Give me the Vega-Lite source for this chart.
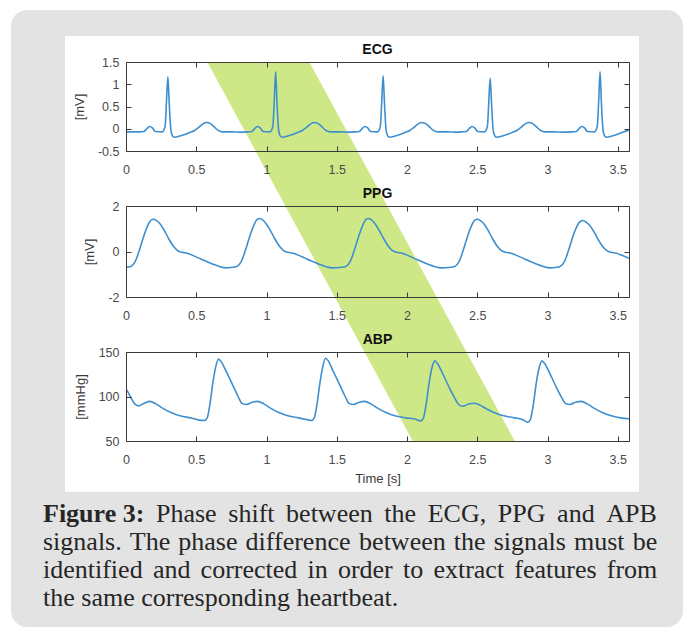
{
  "$schema": "https://vega.github.io/schema/vega-lite/v6.json",
  "background": "white",
  "padding": {"left": 11, "top": 10, "right": 0, "bottom": 0},
  "config": {
    "view": {"stroke": null},
    "axis": {
      "labelFont": "Liberation Sans", "labelFontSize": 12.5, "labelColor": "#4a4a4a",
      "titleFont": "Liberation Sans", "titleFontSize": 13, "titleFontWeight": "normal", "titleColor": "#3a3a3a",
      "grid": false, "domain": true, "domainColor": "#3a3a3a", "domainWidth": 1,
      "tickColor": "#3a3a3a", "tickSize": -5, "labelOverlap": false, "labelFlush": false,
      "zindex": 1
    },
    "axisBottom": {"labelPadding": 17, "titlePadding": 7},
    "axisLeft": {"labelPadding": 12, "titlePadding": 11},
    "title": {"font": "Liberation Sans", "fontSize": 14, "fontWeight": "bold", "color": "#111111", "baseline": "bottom", "offset": -1}
  },
  "datasets": {
    "grayBox": [{"x0": 11, "x1": 683, "y0": 10, "y1": 627}],
    "whiteBox": [{"x0": 65, "x1": 639, "y0": 36, "y1": 491.7}],
    "band": [
      {"panel": "ECG", "v": 1.5, "tl": 0.5786, "tr": 1.3046},
      {"panel": "ECG", "v": -1.736, "tl": 1.1342, "tr": 1.8602},
      {"panel": "PPG", "v": 2, "tl": 1.1342, "tr": 1.8602},
      {"panel": "PPG", "v": -4.4176, "tl": 1.6974, "tr": 2.4233},
      {"panel": "ABP", "v": 150, "tl": 1.6974, "tr": 2.4233},
      {"panel": "ABP", "v": 50, "tl": 2.0407, "tr": 2.7667}
    ],
    "ecg": [
      {"t": 0, "v": -0.07}, {"t": 0.05, "v": -0.07}, {"t": 0.098, "v": -0.07}, {"t": 0.128, "v": -0.06}, {"t": 0.148, "v": 0.0}, {"t": 0.168, "v": 0.05}, {"t": 0.188, "v": 0.02}, {"t": 0.208, "v": -0.06}, {"t": 0.258, "v": -0.07}, {"t": 0.278, "v": 0.05}, {"t": 0.288, "v": 0.6}, {"t": 0.298, "v": 1.17}, {"t": 0.308, "v": 0.55}, {"t": 0.32, "v": -0.05}, {"t": 0.333, "v": -0.17}, {"t": 0.348, "v": -0.19}, {"t": 0.378, "v": -0.17}, {"t": 0.418, "v": -0.13}, {"t": 0.458, "v": -0.08}, {"t": 0.488, "v": -0.04}, {"t": 0.518, "v": 0.03}, {"t": 0.548, "v": 0.11}, {"t": 0.573, "v": 0.14}, {"t": 0.598, "v": 0.12}, {"t": 0.628, "v": 0.04}, {"t": 0.658, "v": -0.04}, {"t": 0.688, "v": -0.07}, {"t": 0.748, "v": -0.07}, {"t": 0.818, "v": -0.075},
      {"t": 0.865, "v": -0.07}, {"t": 0.895, "v": -0.06}, {"t": 0.915, "v": 0.0}, {"t": 0.935, "v": 0.05}, {"t": 0.955, "v": 0.02}, {"t": 0.975, "v": -0.06}, {"t": 1.025, "v": -0.07}, {"t": 1.045, "v": 0.05}, {"t": 1.055, "v": 0.6}, {"t": 1.065, "v": 1.28}, {"t": 1.075, "v": 0.55}, {"t": 1.087, "v": -0.05}, {"t": 1.1, "v": -0.17}, {"t": 1.115, "v": -0.19}, {"t": 1.145, "v": -0.17}, {"t": 1.185, "v": -0.13}, {"t": 1.225, "v": -0.08}, {"t": 1.255, "v": -0.04}, {"t": 1.285, "v": 0.03}, {"t": 1.315, "v": 0.11}, {"t": 1.34, "v": 0.14}, {"t": 1.365, "v": 0.12}, {"t": 1.395, "v": 0.04}, {"t": 1.425, "v": -0.04}, {"t": 1.455, "v": -0.07}, {"t": 1.515, "v": -0.07}, {"t": 1.585, "v": -0.075},
      {"t": 1.63, "v": -0.07}, {"t": 1.66, "v": -0.06}, {"t": 1.68, "v": 0.0}, {"t": 1.7, "v": 0.05}, {"t": 1.72, "v": 0.02}, {"t": 1.74, "v": -0.06}, {"t": 1.79, "v": -0.07}, {"t": 1.81, "v": 0.05}, {"t": 1.82, "v": 0.6}, {"t": 1.83, "v": 1.19}, {"t": 1.84, "v": 0.55}, {"t": 1.852, "v": -0.05}, {"t": 1.865, "v": -0.17}, {"t": 1.88, "v": -0.19}, {"t": 1.91, "v": -0.17}, {"t": 1.95, "v": -0.13}, {"t": 1.99, "v": -0.08}, {"t": 2.02, "v": -0.04}, {"t": 2.05, "v": 0.03}, {"t": 2.08, "v": 0.11}, {"t": 2.105, "v": 0.14}, {"t": 2.13, "v": 0.12}, {"t": 2.16, "v": 0.04}, {"t": 2.19, "v": -0.04}, {"t": 2.22, "v": -0.07}, {"t": 2.28, "v": -0.07}, {"t": 2.35, "v": -0.075},
      {"t": 2.392, "v": -0.07}, {"t": 2.422, "v": -0.06}, {"t": 2.442, "v": 0.0}, {"t": 2.462, "v": 0.05}, {"t": 2.482, "v": 0.02}, {"t": 2.502, "v": -0.06}, {"t": 2.552, "v": -0.07}, {"t": 2.572, "v": 0.05}, {"t": 2.582, "v": 0.6}, {"t": 2.592, "v": 1.14}, {"t": 2.602, "v": 0.55}, {"t": 2.614, "v": -0.05}, {"t": 2.627, "v": -0.17}, {"t": 2.642, "v": -0.19}, {"t": 2.672, "v": -0.17}, {"t": 2.712, "v": -0.13}, {"t": 2.752, "v": -0.08}, {"t": 2.782, "v": -0.04}, {"t": 2.812, "v": 0.03}, {"t": 2.842, "v": 0.11}, {"t": 2.867, "v": 0.14}, {"t": 2.892, "v": 0.12}, {"t": 2.922, "v": 0.04}, {"t": 2.952, "v": -0.04}, {"t": 2.982, "v": -0.07}, {"t": 3.042, "v": -0.07}, {"t": 3.112, "v": -0.075},
      {"t": 3.174, "v": -0.07}, {"t": 3.204, "v": -0.06}, {"t": 3.224, "v": 0.0}, {"t": 3.244, "v": 0.05}, {"t": 3.264, "v": 0.02}, {"t": 3.284, "v": -0.06}, {"t": 3.334, "v": -0.07}, {"t": 3.354, "v": 0.05}, {"t": 3.364, "v": 0.6}, {"t": 3.374, "v": 1.28}, {"t": 3.384, "v": 0.55}, {"t": 3.396, "v": -0.05}, {"t": 3.409, "v": -0.17}, {"t": 3.424, "v": -0.19}, {"t": 3.454, "v": -0.17}, {"t": 3.494, "v": -0.13}, {"t": 3.534, "v": -0.08}, {"t": 3.58, "v": -0.03}
    ],
    "ppg": [
      {"t": 0, "v": -0.7}, {"t": 0.035, "v": -0.66}, {"t": 0.065, "v": -0.45}, {"t": 0.095, "v": 0.05}, {"t": 0.125, "v": 0.65}, {"t": 0.155, "v": 1.15}, {"t": 0.18, "v": 1.39}, {"t": 0.195, "v": 1.42}, {"t": 0.215, "v": 1.37}, {"t": 0.245, "v": 1.2}, {"t": 0.275, "v": 0.9}, {"t": 0.305, "v": 0.55}, {"t": 0.335, "v": 0.25}, {"t": 0.365, "v": 0.05}, {"t": 0.395, "v": -0.03}, {"t": 0.435, "v": -0.08}, {"t": 0.475, "v": -0.17}, {"t": 0.515, "v": -0.28}, {"t": 0.565, "v": -0.42}, {"t": 0.615, "v": -0.55}, {"t": 0.665, "v": -0.66}, {"t": 0.715, "v": -0.72},
      {"t": 0.75, "v": -0.7}, {"t": 0.79, "v": -0.66}, {"t": 0.82, "v": -0.45}, {"t": 0.85, "v": 0.05}, {"t": 0.88, "v": 0.65}, {"t": 0.91, "v": 1.15}, {"t": 0.935, "v": 1.42}, {"t": 0.95, "v": 1.45}, {"t": 0.97, "v": 1.4}, {"t": 1.0, "v": 1.2}, {"t": 1.03, "v": 0.9}, {"t": 1.06, "v": 0.55}, {"t": 1.09, "v": 0.25}, {"t": 1.12, "v": 0.05}, {"t": 1.15, "v": -0.03}, {"t": 1.19, "v": -0.08}, {"t": 1.23, "v": -0.17}, {"t": 1.27, "v": -0.28}, {"t": 1.32, "v": -0.42}, {"t": 1.37, "v": -0.55}, {"t": 1.42, "v": -0.66}, {"t": 1.47, "v": -0.72},
      {"t": 1.525, "v": -0.7}, {"t": 1.565, "v": -0.66}, {"t": 1.595, "v": -0.45}, {"t": 1.625, "v": 0.05}, {"t": 1.655, "v": 0.65}, {"t": 1.685, "v": 1.15}, {"t": 1.71, "v": 1.42}, {"t": 1.725, "v": 1.45}, {"t": 1.745, "v": 1.4}, {"t": 1.775, "v": 1.2}, {"t": 1.805, "v": 0.9}, {"t": 1.835, "v": 0.55}, {"t": 1.865, "v": 0.25}, {"t": 1.895, "v": 0.05}, {"t": 1.925, "v": -0.03}, {"t": 1.965, "v": -0.08}, {"t": 2.005, "v": -0.17}, {"t": 2.045, "v": -0.28}, {"t": 2.095, "v": -0.42}, {"t": 2.145, "v": -0.55}, {"t": 2.195, "v": -0.66}, {"t": 2.245, "v": -0.72},
      {"t": 2.3, "v": -0.7}, {"t": 2.34, "v": -0.66}, {"t": 2.37, "v": -0.45}, {"t": 2.4, "v": 0.05}, {"t": 2.43, "v": 0.65}, {"t": 2.46, "v": 1.15}, {"t": 2.485, "v": 1.39}, {"t": 2.5, "v": 1.42}, {"t": 2.52, "v": 1.37}, {"t": 2.55, "v": 1.2}, {"t": 2.58, "v": 0.9}, {"t": 2.61, "v": 0.55}, {"t": 2.64, "v": 0.25}, {"t": 2.67, "v": 0.05}, {"t": 2.7, "v": -0.03}, {"t": 2.74, "v": -0.08}, {"t": 2.78, "v": -0.17}, {"t": 2.82, "v": -0.28}, {"t": 2.87, "v": -0.42}, {"t": 2.92, "v": -0.55}, {"t": 2.97, "v": -0.66}, {"t": 3.02, "v": -0.72},
      {"t": 3.055, "v": -0.7}, {"t": 3.09, "v": -0.66}, {"t": 3.12, "v": -0.45}, {"t": 3.15, "v": 0.05}, {"t": 3.18, "v": 0.65}, {"t": 3.21, "v": 1.12}, {"t": 3.235, "v": 1.33}, {"t": 3.25, "v": 1.36}, {"t": 3.27, "v": 1.31}, {"t": 3.3, "v": 1.15}, {"t": 3.33, "v": 0.87}, {"t": 3.36, "v": 0.53}, {"t": 3.39, "v": 0.24}, {"t": 3.42, "v": 0.05}, {"t": 3.45, "v": -0.03}, {"t": 3.49, "v": -0.08}, {"t": 3.53, "v": -0.17}, {"t": 3.58, "v": -0.3}
    ],
    "abp": [
      {"t": 0, "v": 108}, {"t": 0.01, "v": 106}, {"t": 0.03, "v": 100}, {"t": 0.06, "v": 92}, {"t": 0.09, "v": 89.5}, {"t": 0.13, "v": 92.5}, {"t": 0.17, "v": 94.5}, {"t": 0.21, "v": 92}, {"t": 0.26, "v": 87}, {"t": 0.32, "v": 82}, {"t": 0.39, "v": 78}, {"t": 0.46, "v": 76}, {"t": 0.52, "v": 73.5},
      {"t": 0.558, "v": 73}, {"t": 0.578, "v": 76}, {"t": 0.598, "v": 92}, {"t": 0.618, "v": 115}, {"t": 0.638, "v": 133}, {"t": 0.658, "v": 142}, {"t": 0.678, "v": 139}, {"t": 0.708, "v": 130}, {"t": 0.738, "v": 120}, {"t": 0.768, "v": 110}, {"t": 0.798, "v": 100}, {"t": 0.828, "v": 92}, {"t": 0.858, "v": 91}, {"t": 0.898, "v": 93.5}, {"t": 0.938, "v": 94.5}, {"t": 0.978, "v": 92}, {"t": 1.028, "v": 87}, {"t": 1.088, "v": 82}, {"t": 1.158, "v": 78}, {"t": 1.228, "v": 76}, {"t": 1.29, "v": 74},
      {"t": 1.32, "v": 73}, {"t": 1.34, "v": 76}, {"t": 1.36, "v": 92}, {"t": 1.38, "v": 115}, {"t": 1.4, "v": 133}, {"t": 1.42, "v": 143}, {"t": 1.44, "v": 140}, {"t": 1.47, "v": 130}, {"t": 1.5, "v": 120}, {"t": 1.53, "v": 110}, {"t": 1.56, "v": 100}, {"t": 1.59, "v": 92}, {"t": 1.62, "v": 91}, {"t": 1.66, "v": 93.5}, {"t": 1.7, "v": 94.5}, {"t": 1.74, "v": 92}, {"t": 1.79, "v": 87}, {"t": 1.85, "v": 82}, {"t": 1.92, "v": 78}, {"t": 1.99, "v": 76}, {"t": 2.05, "v": 75},
      {"t": 2.097, "v": 72.5}, {"t": 2.117, "v": 76}, {"t": 2.137, "v": 92}, {"t": 2.157, "v": 115}, {"t": 2.177, "v": 132}, {"t": 2.197, "v": 140}, {"t": 2.217, "v": 137}, {"t": 2.247, "v": 128}, {"t": 2.277, "v": 118}, {"t": 2.307, "v": 108}, {"t": 2.337, "v": 99}, {"t": 2.367, "v": 91}, {"t": 2.397, "v": 89}, {"t": 2.437, "v": 91.5}, {"t": 2.477, "v": 92.5}, {"t": 2.517, "v": 90.5}, {"t": 2.567, "v": 86}, {"t": 2.627, "v": 81.5}, {"t": 2.697, "v": 78}, {"t": 2.767, "v": 76},
      {"t": 2.83, "v": 73.5}, {"t": 2.86, "v": 71}, {"t": 2.88, "v": 75}, {"t": 2.9, "v": 92}, {"t": 2.92, "v": 115}, {"t": 2.94, "v": 132}, {"t": 2.96, "v": 140}, {"t": 2.98, "v": 137}, {"t": 3.01, "v": 128}, {"t": 3.04, "v": 118}, {"t": 3.07, "v": 108}, {"t": 3.1, "v": 99}, {"t": 3.13, "v": 92}, {"t": 3.16, "v": 91}, {"t": 3.2, "v": 93.5}, {"t": 3.24, "v": 94.5}, {"t": 3.28, "v": 92}, {"t": 3.33, "v": 87}, {"t": 3.39, "v": 82}, {"t": 3.46, "v": 78}, {"t": 3.52, "v": 76}, {"t": 3.58, "v": 75}
    ],
    "captionBold": [{"px": 43, "py": 522, "w": "Figure 3:"}],
    "caption": [
      {"px": 156.0, "py": 522, "w": "Phase"}, {"px": 228.3, "py": 522, "w": "shift"}, {"px": 286.1, "py": 522, "w": "between"}, {"px": 384.3, "py": 522, "w": "the"}, {"px": 427.7, "py": 522, "w": "ECG,"}, {"px": 497.8, "py": 522, "w": "PPG"}, {"px": 557.1, "py": 522, "w": "and"}, {"px": 606.2, "py": 522, "w": "APB"},
      {"px": 43, "py": 550, "w": "signals."}, {"px": 129.8, "py": 550, "w": "The"}, {"px": 178.3, "py": 550, "w": "phase"}, {"px": 245.6, "py": 550, "w": "difference"}, {"px": 359.1, "py": 550, "w": "between"}, {"px": 453.8, "py": 550, "w": "the"}, {"px": 493.7, "py": 550, "w": "signals"}, {"px": 574.0, "py": 550, "w": "must"}, {"px": 632.7, "py": 550, "w": "be"},
      {"px": 43, "py": 578, "w": "identified"}, {"px": 152.9, "py": 578, "w": "and"}, {"px": 200.6, "py": 578, "w": "corrected"}, {"px": 307.5, "py": 578, "w": "in"}, {"px": 337.9, "py": 578, "w": "order"}, {"px": 403.0, "py": 578, "w": "to"}, {"px": 433.4, "py": 578, "w": "extract"}, {"px": 514.3, "py": 578, "w": "features"}, {"px": 606.8, "py": 578, "w": "from"},
      {"px": 43, "py": 606, "w": "the same corresponding heartbeat."}
    ]
  },
  "bounds": "flush",
  "spacing": 0,
  "vconcat": [
    {
      "width": 503, "height": 20,
      "layer": [
        {"data": {"name": "grayBox"}, "mark": {"type": "rect", "fill": "#e3e3e3", "cornerRadius": 16, "clip": false},
         "encoding": {"x": {"field": "x0", "type": "quantitative", "scale": {"domain": [126, 629], "nice": false, "zero": false}, "axis": null}, "x2": {"field": "x1"},
                      "y": {"field": "y0", "type": "quantitative", "scale": {"domain": [42, 62], "nice": false, "zero": false, "reverse": true}, "axis": null}, "y2": {"field": "y1"}}},
        {"data": {"name": "whiteBox"}, "mark": {"type": "rect", "fill": "#ffffff", "clip": false},
         "encoding": {"x": {"field": "x0", "type": "quantitative", "scale": {"domain": [126, 629], "nice": false, "zero": false}, "axis": null}, "x2": {"field": "x1"},
                      "y": {"field": "y0", "type": "quantitative", "scale": {"domain": [42, 62], "nice": false, "zero": false, "reverse": true}, "axis": null}, "y2": {"field": "y1"}}},
        {"data": {"name": "captionBold"}, "mark": {"type": "text", "align": "left", "baseline": "alphabetic", "font": "Liberation Serif", "fontSize": 26, "fontWeight": "bold", "color": "#262626", "clip": false},
         "encoding": {"x": {"field": "px", "type": "quantitative", "scale": {"domain": [126, 629], "nice": false, "zero": false}, "axis": null},
                      "y": {"field": "py", "type": "quantitative", "scale": {"domain": [42, 62], "nice": false, "zero": false, "reverse": true}, "axis": null},
                      "text": {"field": "w"}}},
        {"data": {"name": "caption"}, "mark": {"type": "text", "align": "left", "baseline": "alphabetic", "font": "Liberation Serif", "fontSize": 26, "color": "#262626", "clip": false},
         "encoding": {"x": {"field": "px", "type": "quantitative", "scale": {"domain": [126, 629], "nice": false, "zero": false}, "axis": null},
                      "y": {"field": "py", "type": "quantitative", "scale": {"domain": [42, 62], "nice": false, "zero": false, "reverse": true}, "axis": null},
                      "text": {"field": "w"}}}
      ]
    },
    {
      "bounds": "flush",
      "spacing": 55,
      "vconcat": [
        {
          "title": "ECG",
          "width": 503, "height": 89,
          "layer": [
            {"data": {"name": "band"}, "transform": [{"filter": "datum.panel === 'ECG'"}],
             "mark": {"type": "area", "orient": "horizontal", "fill": "#cee888", "clip": false},
             "encoding": {"y": {"field": "v", "type": "quantitative", "scale": {"domain": [-0.5, 1.5], "nice": false, "zero": false}, "axis": null},
                          "x": {"field": "tl", "type": "quantitative", "scale": {"domain": [0, 3.58], "nice": false, "zero": false}, "axis": null}, "x2": {"field": "tr"}}},
            {"data": {"name": "ecg"}, "mark": {"type": "line", "color": "#3f8fce", "strokeWidth": 1.6, "clip": true, "interpolate": "monotone"},
             "encoding": {"x": {"field": "t", "type": "quantitative", "scale": {"domain": [0, 3.58], "nice": false, "zero": false}, "axis": {"orient": "bottom", "zindex": 1, "values": [0, 0.5, 1, 1.5, 2, 2.5, 3, 3.5], "labelExpr": "'' + datum.value", "title": null}},
                          "y": {"field": "v", "type": "quantitative", "scale": {"domain": [-0.5, 1.5], "nice": false, "zero": false}, "axis": {"orient": "left", "zindex": 1, "values": [-0.5, 0, 0.5, 1, 1.5], "labelExpr": "'' + datum.value", "title": "[mV]"}}}},
            {"data": {"name": "ecg"}, "mark": {"type": "line", "opacity": 0},
             "encoding": {"x": {"field": "t", "type": "quantitative", "scale": {"domain": [0, 3.58], "nice": false, "zero": false}, "axis": {"orient": "top", "zindex": 1, "values": [0, 0.5, 1, 1.5, 2, 2.5, 3, 3.5], "labels": false, "title": null}},
                          "y": {"field": "v", "type": "quantitative", "scale": {"domain": [-0.5, 1.5], "nice": false, "zero": false}, "axis": {"orient": "right", "zindex": 1, "values": [-0.5, 0, 0.5, 1, 1.5], "labels": false, "title": null}}}}
          ],
          "resolve": {"axis": {"x": "independent", "y": "independent"}}
        },
        {
          "title": "PPG",
          "width": 503, "height": 91,
          "layer": [
            {"data": {"name": "band"}, "transform": [{"filter": "datum.panel === 'PPG'"}],
             "mark": {"type": "area", "orient": "horizontal", "fill": "#cee888", "clip": false},
             "encoding": {"y": {"field": "v", "type": "quantitative", "scale": {"domain": [-2, 2], "nice": false, "zero": false}, "axis": null},
                          "x": {"field": "tl", "type": "quantitative", "scale": {"domain": [0, 3.58], "nice": false, "zero": false}, "axis": null}, "x2": {"field": "tr"}}},
            {"data": {"name": "ppg"}, "mark": {"type": "line", "color": "#3f8fce", "strokeWidth": 1.6, "clip": true, "interpolate": "monotone"},
             "encoding": {"x": {"field": "t", "type": "quantitative", "scale": {"domain": [0, 3.58], "nice": false, "zero": false}, "axis": {"orient": "bottom", "zindex": 1, "values": [0, 0.5, 1, 1.5, 2, 2.5, 3, 3.5], "labelExpr": "'' + datum.value", "title": null}},
                          "y": {"field": "v", "type": "quantitative", "scale": {"domain": [-2, 2], "nice": false, "zero": false}, "axis": {"orient": "left", "zindex": 1, "values": [-2, 0, 2], "labelExpr": "'' + datum.value", "title": "[mV]"}}}},
            {"data": {"name": "ppg"}, "mark": {"type": "line", "opacity": 0},
             "encoding": {"x": {"field": "t", "type": "quantitative", "scale": {"domain": [0, 3.58], "nice": false, "zero": false}, "axis": {"orient": "top", "zindex": 1, "values": [0, 0.5, 1, 1.5, 2, 2.5, 3, 3.5], "labels": false, "title": null}},
                          "y": {"field": "v", "type": "quantitative", "scale": {"domain": [-2, 2], "nice": false, "zero": false}, "axis": {"orient": "right", "zindex": 1, "values": [-2, 0, 2], "labels": false, "title": null}}}}
          ],
          "resolve": {"axis": {"x": "independent", "y": "independent"}}
        },
        {
          "title": "ABP",
          "width": 503, "height": 89,
          "layer": [
            {"data": {"name": "band"}, "transform": [{"filter": "datum.panel === 'ABP'"}],
             "mark": {"type": "area", "orient": "horizontal", "fill": "#cee888", "clip": false},
             "encoding": {"y": {"field": "v", "type": "quantitative", "scale": {"domain": [50, 150], "nice": false, "zero": false}, "axis": null},
                          "x": {"field": "tl", "type": "quantitative", "scale": {"domain": [0, 3.58], "nice": false, "zero": false}, "axis": null}, "x2": {"field": "tr"}}},
            {"data": {"name": "abp"}, "mark": {"type": "line", "color": "#3f8fce", "strokeWidth": 1.6, "clip": true, "interpolate": "monotone"},
             "encoding": {"x": {"field": "t", "type": "quantitative", "scale": {"domain": [0, 3.58], "nice": false, "zero": false}, "axis": {"orient": "bottom", "zindex": 1, "values": [0, 0.5, 1, 1.5, 2, 2.5, 3, 3.5], "labelExpr": "'' + datum.value", "title": "Time [s]"}},
                          "y": {"field": "v", "type": "quantitative", "scale": {"domain": [50, 150], "nice": false, "zero": false}, "axis": {"orient": "left", "zindex": 1, "values": [50, 100, 150], "labelExpr": "'' + datum.value", "title": "[mmHg]"}}}},
            {"data": {"name": "abp"}, "mark": {"type": "line", "opacity": 0},
             "encoding": {"x": {"field": "t", "type": "quantitative", "scale": {"domain": [0, 3.58], "nice": false, "zero": false}, "axis": {"orient": "top", "zindex": 1, "values": [0, 0.5, 1, 1.5, 2, 2.5, 3, 3.5], "labels": false, "title": null}},
                          "y": {"field": "v", "type": "quantitative", "scale": {"domain": [50, 150], "nice": false, "zero": false}, "axis": {"orient": "right", "zindex": 1, "values": [50, 100, 150], "labels": false, "title": null}}}}
          ],
          "resolve": {"axis": {"x": "independent", "y": "independent"}}
        }
      ]
    }
  ]
}
